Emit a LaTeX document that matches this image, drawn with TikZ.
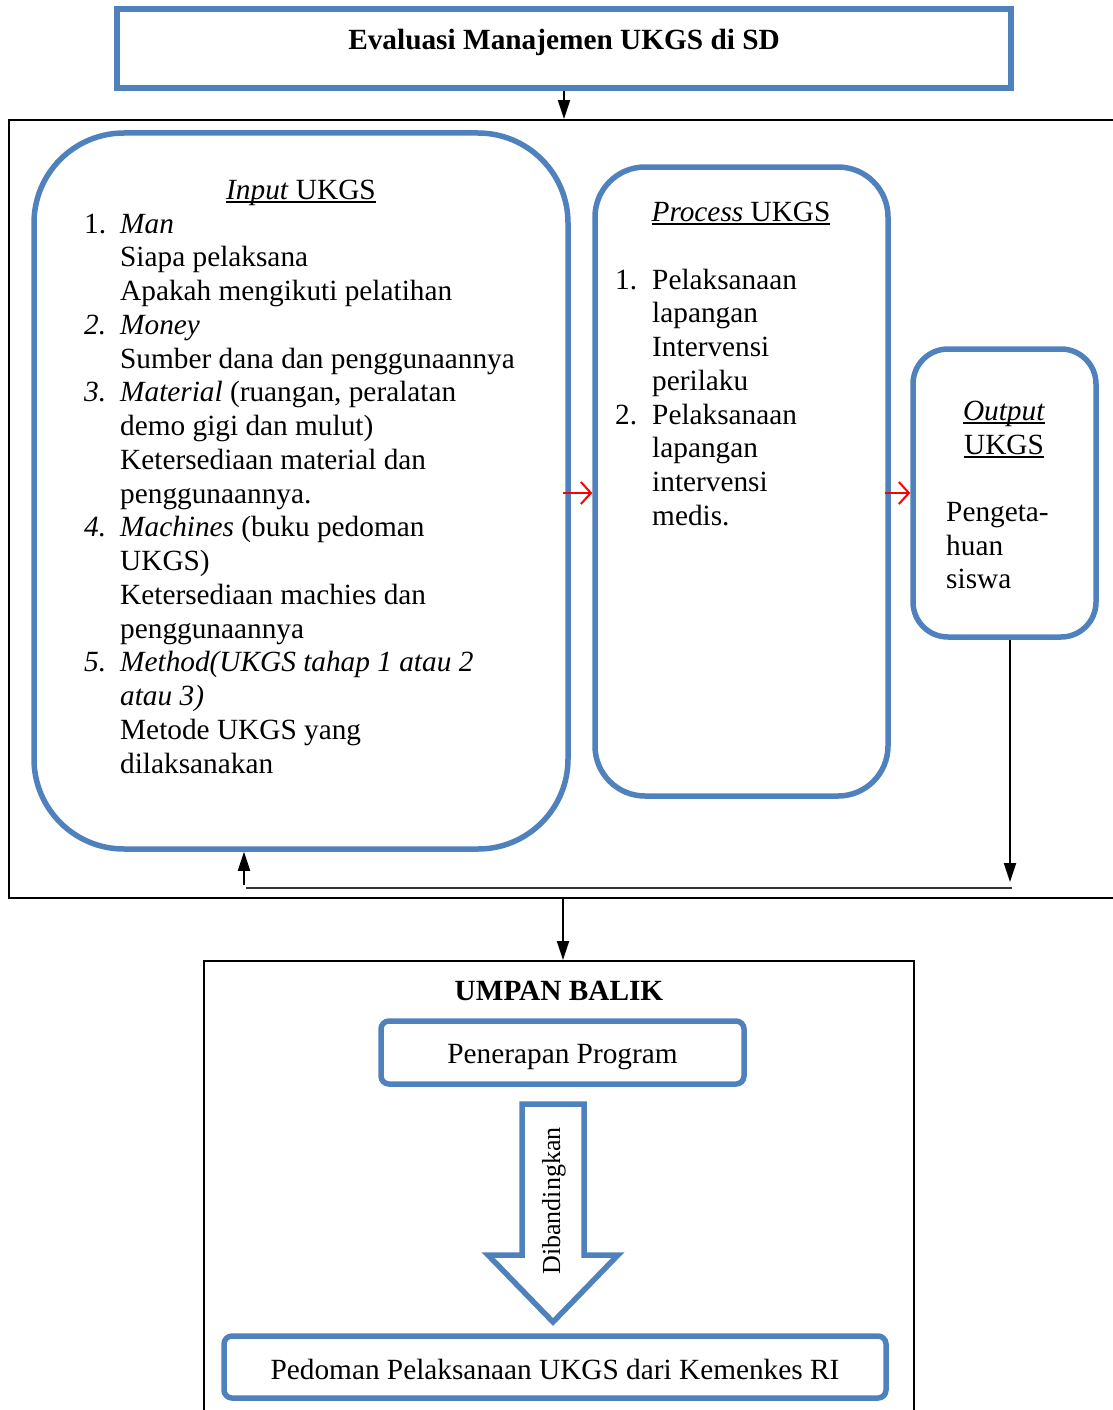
\documentclass[tikz,border=0pt]{standalone}
\usepackage{fontspec}
\setmainfont{Liberation Serif}
\usetikzlibrary{arrows.meta}
\definecolor{boxblue}{HTML}{4F81BD}
\newcommand\dgbody{\fontsize{29.3}{33.75}\selectfont}
\newcommand\myul[1]{\setbox0\hbox{#1}\rlap{\rule[-3.5pt]{\wd0}{1.8pt}}\box0}
\tikzset{
  bluebox/.style={draw=boxblue, line width=5.5pt, inner sep=0pt},
  framebox/.style={draw=black, line width=1.8pt, inner sep=0pt},
  txt/.style={anchor=base west, inner sep=0pt, font=\dgbody},
  ctxt/.style={anchor=base, inner sep=0pt, font=\dgbody},
  arr/.style={line width=2pt, -{Triangle[length=19pt,width=12pt]}},
  redarr/.style={draw=red, line width=2pt, -{Straight Barb[length=10pt,width=22pt]}}
}
\begin{document}
\begin{tikzpicture}[x=1pt,y=-1pt]
\useasboundingbox (0,0) rectangle (1113,1410);
\clip (0,0) rectangle (1113,1410);

% title
\node[bluebox, minimum width=894pt, minimum height=79pt] (title) at (564,48.5) {};
\node[ctxt, font=\dgbody\bfseries] (titletxt) at (564,50) {Evaluasi Manajemen UKGS di SD};

% main frame
\node[framebox, minimum width=1116pt, minimum height=778pt] (main) at (567,509) {};
\draw[arr] (title.south) -- (title.south |- main.north);

% boxes
\node[bluebox, rounded corners=90pt, minimum width=534pt, minimum height=716pt] (input) at (301,491) {};
\node[bluebox, rounded corners=50pt, minimum width=293pt, minimum height=629pt] (process) at (741.5,481.5) {};
\node[bluebox, rounded corners=35pt, minimum width=183pt, minimum height=288pt] (output) at (1004.5,493) {};

% input text
\node[ctxt] (intitle) at (301,199) {\myul{\textit{Input} UKGS}};
\foreach \n/\t [count=\k] in {
  {1.}/{\textit{Man}},
  {}/{Siapa pelaksana},
  {}/{Apakah mengikuti pelatihan},
  {\textit{2.}}/{\textit{Money}},
  {}/{Sumber dana dan penggunaannya},
  {\textit{3.}}/{\textit{Material} (ruangan, peralatan},
  {}/{demo gigi dan mulut)},
  {}/{Ketersediaan material dan},
  {}/{penggunaannya.},
  {\textit{4.}}/{\textit{Machines} (buku pedoman},
  {}/{UKGS)},
  {}/{Ketersediaan machies dan},
  {}/{penggunaannya},
  {\textit{5.}}/{\textit{Method(UKGS tahap 1 atau 2}},
  {}/{\textit{atau 3)}},
  {}/{Metode UKGS yang},
  {}/{dilaksanakan}}{
  \node[txt] (inN\k) at (84,{233+33.75*(\k-1)}) {\n};
  \node[txt] (inT\k) at (120,{233+33.75*(\k-1)}) {\t};
}

% process text
\node[ctxt] (prtitle) at (741,221) {\myul{\textit{Process} UKGS}};
\foreach \n/\t [count=\k] in {
  {1.}/{Pelaksanaan},
  {}/{lapangan},
  {}/{Intervensi},
  {}/{perilaku},
  {2.}/{Pelaksanaan},
  {}/{lapangan},
  {}/{intervensi},
  {}/{medis.}}{
  \node[txt] (prN\k) at (615,{289+33.75*(\k-1)}) {\n};
  \node[txt] (prT\k) at (652,{289+33.75*(\k-1)}) {\t};
}

% output text
\node[ctxt] (outt1) at (1004,420) {\myul{\textit{Output}}};
\node[ctxt] (outt2) at (1004,454) {\myul{UKGS}};
\node[txt] (outa) at (946,521) {Pengeta-};
\node[txt] (outb) at (946,555) {huan};
\node[txt] (outc) at (946,588) {siswa};

% red arrows
\coordinate (r1s) at (563,493);
\coordinate (r2s) at (885,493);
\draw[redarr] (r1s) -- (r1s -| process.west);
\draw[redarr] (r2s) -- (r2s -| output.west);

% feedback loop
\coordinate (fbR) at (1010,882);
\coordinate (fbL) at (246,888);
\coordinate (fbE) at (1012,888);
\coordinate (upS) at (244,885);
\draw[arr] (fbR |- output.south) -- (fbR);
\draw[line width=2pt, black!80] (fbL) -- (fbE);
\draw[arr] (upS) -- (upS |- input.south);

% lower frame
\node[framebox, minimum width=710pt, minimum height=470pt] (lower) at (559,1196) {};
\coordinate (dn) at (563,898);
\draw[arr] (dn) -- (dn |- lower.north);

\node[ctxt, font=\dgbody\bfseries] (umpan) at (559,1000) {UMPAN BALIK};
\node[bluebox, rounded corners=8pt, minimum width=363pt, minimum height=63pt] (penerapan) at (562.5,1052.5) {};
\node[ctxt] (penerapantxt) at (562.5,1063) {Penerapan Program};
\node[bluebox, rounded corners=8pt, minimum width=662pt, minimum height=62pt] (pedoman) at (555,1367) {};
\node[ctxt] (pedomantxt) at (555,1379) {Pedoman Pelaksanaan UKGS dari Kemenkes RI};

% hollow arrow
\draw[draw=boxblue, line width=5.5pt, line join=miter, fill=white]
  (522,1104) -- (584,1104) -- (584,1255) -- (618,1255) -- (553,1322) -- (488,1255) -- (522,1255) -- cycle;
\node[rotate=90, inner sep=0pt, font=\fontsize{26}{30}\selectfont] (cmp) at (554,1201) {Dibandingkan};
\end{tikzpicture}
\end{document}
